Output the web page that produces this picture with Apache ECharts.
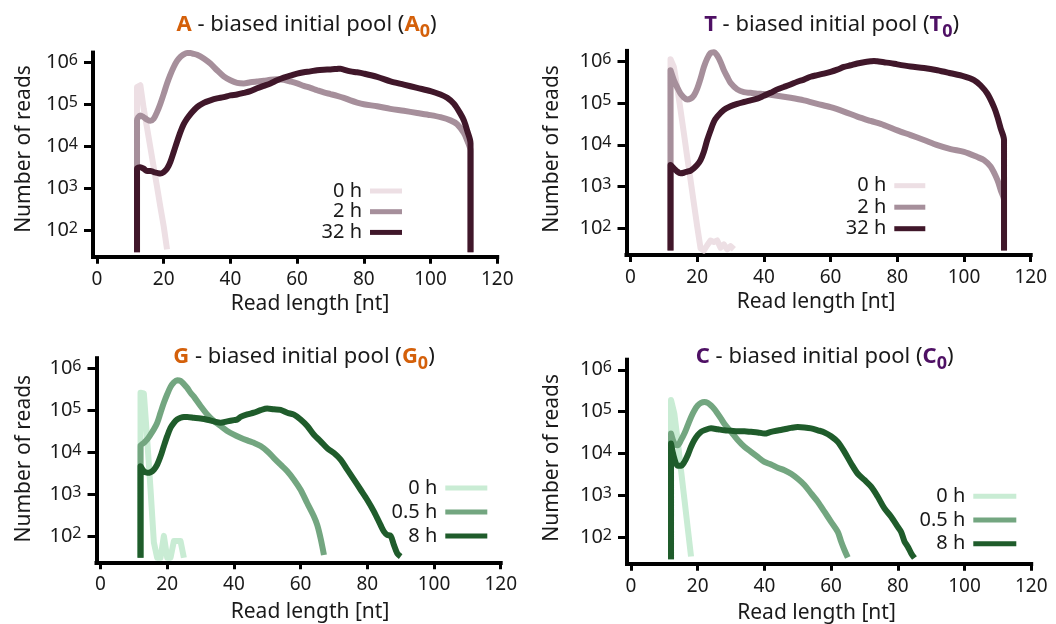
<!DOCTYPE html>
<html>
<head>
<meta charset="utf-8">
<script src="https://cdn.jsdelivr.net/npm/echarts@6/dist/echarts.min.js"></script>
<style>
  html, body { margin: 0; padding: 0; background: #ffffff; }
  #chart { width: 1056px; height: 624px; }
</style>
</head>
<body>
<div id="chart"></div>
<script>
// Axis ticks
const lengthTicks = [0, 20, 40, 60, 80, 100, 120];
const countTicks = [1e2, 1e3, 1e4, 1e5, 1e6];

// Read-length histograms: [read length (nt), number of reads]
// A-biased initial pool
const a0h = [[12,30],[12,2.6e5],[13,2.9e5],[14,8.0e4],[15,2.8e4],[16,9.5e3],[17,3.2e3],[18,1.1e3],[19,360],[20,125],[21,35]];
const a2h = [[12,30],[12,4.2e4],[13,5.5e4],[14,5.0e4],[15,4.4e4],[16,4.1e4],[17,4.6e4],[18,6.6e4],[19,1.05e5],[20,1.8e5],[21,3.2e5],[22,5.2e5],[23,7.9e5],[24,1.1e6],[25,1.38e6],[26,1.58e6],[27,1.7e6],[28,1.7e6],[29,1.62e6],[30,1.55e6],[32,1.26e6],[34,9.5e5],[36,6.6e5],[38,4.7e5],[40,3.8e5],[42,3.3e5],[44,3.2e5],[46,3.4e5],[48,3.55e5],[50,3.7e5],[52,3.9e5],[54,4.0e5],[56,3.9e5],[58,3.55e5],[60,3.2e5],[62,2.8e5],[64,2.5e5],[66,2.2e5],[68,1.95e5],[70,1.78e5],[72,1.62e5],[74,1.45e5],[76,1.26e5],[78,1.12e5],[80,1.02e5],[84,9.1e4],[88,7.9e4],[92,7.1e4],[96,6.3e4],[100,5.6e4],[103,5.0e4],[106,4.2e4],[108,3.4e4],[110,2.1e4],[111,1.4e4],[112,7.9e3],[112,30]];
const a32h = [[12,30],[12,2950],[13,3200],[14,2950],[15,2600],[16,2600],[17,2450],[18,2350],[19,2250],[20,2450],[21,2950],[22,4300],[23,7400],[24,1.3e4],[25,2.2e4],[26,3.4e4],[27,4.6e4],[28,5.9e4],[30,8.7e4],[32,1.1e5],[34,1.26e5],[36,1.4e5],[38,1.5e5],[40,1.66e5],[42,1.74e5],[44,1.9e5],[46,2.1e5],[48,2.45e5],[50,2.8e5],[52,3.2e5],[54,3.8e5],[56,4.4e5],[58,4.9e5],[60,5.5e5],[62,5.9e5],[64,6.2e5],[66,6.6e5],[68,6.8e5],[70,6.9e5],[72,7.1e5],[73,7.2e5],[74,6.8e5],[76,6.2e5],[78,5.9e5],[80,5.5e5],[84,4.6e5],[88,3.6e5],[92,3.0e5],[96,2.5e5],[100,2.1e5],[103,1.74e5],[105,1.45e5],[107,1.05e5],[109,6.0e4],[110,4.2e4],[111,2.4e4],[112,1.2e4],[112,30]];

// T-biased initial pool
const t0h = [[12,30],[12,1.1e6],[13,7.2e5],[14,2.4e5],[15,6.8e4],[16,1.9e4],[17,5.1e3],[18,1.45e3],[19,400],[20,112],[21,34],[22,30],[23,40],[24,52],[25,48],[26,52],[27,35],[28,42],[29,32],[30,38],[31,32]];
const t2h = [[12,30],[12,6.0e5],[13,3.5e5],[14,2.35e5],[15,1.66e5],[16,1.35e5],[17,1.2e5],[18,1.26e5],[19,1.5e5],[20,2.2e5],[21,3.8e5],[22,7.2e5],[23,1.15e6],[24,1.55e6],[25,1.62e6],[26,1.35e6],[27,9.5e5],[28,6.0e5],[29,4.2e5],[30,3.0e5],[32,2.1e5],[34,1.8e5],[36,1.74e5],[38,1.66e5],[40,1.62e5],[44,1.48e5],[48,1.32e5],[52,1.15e5],[56,9.5e4],[60,7.9e4],[64,6.2e4],[68,4.7e4],[72,3.7e4],[76,2.95e4],[80,2.2e4],[84,1.7e4],[88,1.3e4],[92,9.8e3],[96,7.9e3],[100,6.8e3],[104,5.1e3],[106,4.3e3],[108,3.0e3],[110,1.45e3],[111,830],[112,480],[112,30]];
const t32h = [[12,30],[12,3300],[13,2750],[14,2300],[15,2100],[16,2150],[17,2300],[18,2400],[19,2750],[20,3300],[21,4300],[22,6800],[23,1.3e4],[24,2.2e4],[25,3.55e4],[26,4.7e4],[28,6.8e4],[30,8.3e4],[32,9.5e4],[34,1.05e5],[36,1.15e5],[38,1.26e5],[40,1.48e5],[42,1.74e5],[44,2.1e5],[46,2.4e5],[48,2.75e5],[50,3.2e5],[52,3.6e5],[54,4.2e5],[56,4.6e5],[58,5.0e5],[60,5.5e5],[62,6.2e5],[64,7.2e5],[66,7.9e5],[68,8.7e5],[70,9.3e5],[72,9.8e5],[73,1.0e6],[74,9.8e5],[76,9.3e5],[78,8.9e5],[80,8.3e5],[84,7.4e5],[88,6.8e5],[92,6.0e5],[96,5.1e5],[100,4.3e5],[103,3.5e5],[105,2.6e5],[107,1.66e5],[109,7.9e4],[110,4.7e4],[111,2.45e4],[112,1.3e4],[112,30]];

// G-biased initial pool
const g0h = [[12,30],[12,2.6e5],[13,2.5e5],[14,2.0e4],[15,1.3e3],[16,70],[17,30],[18,30],[19,100],[20,30],[21,30],[22,75],[23,75],[24,75],[25,30]];
const g05h = [[12,30],[12,1.4e4],[13,1.66e4],[14,2.0e4],[15,2.6e4],[16,3.5e4],[17,5.0e4],[18,8.7e4],[19,1.5e5],[20,2.4e5],[21,3.6e5],[22,4.6e5],[23,5.2e5],[24,5.0e5],[25,4.2e5],[26,3.4e5],[27,2.6e5],[28,2.1e5],[30,1.26e5],[32,7.9e4],[34,5.5e4],[36,4.2e4],[38,3.2e4],[40,2.6e4],[42,2.2e4],[44,1.9e4],[46,1.66e4],[48,1.4e4],[50,1.05e4],[52,7.2e3],[54,5.0e3],[56,3.5e3],[58,2.2e3],[60,1.26e3],[62,600],[64,290],[65,180],[66,87],[67,35]];
const g8h = [[12,30],[12,4.6e3],[13,3.5e3],[14,3.2e3],[15,3.3e3],[16,3.8e3],[17,5.0e3],[18,7.9e3],[19,1.4e4],[20,2.4e4],[21,3.8e4],[22,5.0e4],[23,6.0e4],[24,6.6e4],[25,6.9e4],[26,6.9e4],[28,6.6e4],[30,6.3e4],[32,5.9e4],[34,5.4e4],[36,5.0e4],[38,5.4e4],[40,5.8e4],[41,6.0e4],[42,6.9e4],[44,7.9e4],[46,8.7e4],[48,1.0e5],[50,1.1e5],[52,1.05e5],[54,1.02e5],[56,8.7e4],[58,7.8e4],[60,6.0e4],[62,4.2e4],[64,2.6e4],[66,1.8e4],[68,1.23e4],[70,9.5e3],[72,6.6e3],[74,3.8e3],[76,2.2e3],[78,1.26e3],[80,720],[82,380],[84,180],[85,126],[86,105],[87,100],[88,60],[89,38],[90,32]];

// C-biased initial pool
const c0h = [[12,30],[12,1.9e5],[13,8.9e4],[14,2.0e4],[15,4.0e3],[16,830],[17,170],[18,35]];
const c05h = [[12,30],[12,3.0e4],[13,1.74e4],[14,1.58e4],[15,2.1e4],[16,3.0e4],[17,4.7e4],[18,7.4e4],[19,1.07e5],[20,1.4e5],[21,1.62e5],[22,1.7e5],[23,1.62e5],[24,1.4e5],[25,1.15e5],[26,8.9e4],[27,6.8e4],[28,5.1e4],[30,3.3e4],[32,2.1e4],[34,1.45e4],[36,1.1e4],[38,8.3e3],[40,6.3e3],[42,5.5e3],[44,4.6e3],[46,4.0e3],[48,3.3e3],[50,2.5e3],[52,1.78e3],[54,1.12e3],[56,710],[58,410],[60,235],[62,135],[63,80],[64,50],[65,33]];
const c8h = [[12,30],[12,1.74e4],[13,7.6e3],[14,5.1e3],[15,5.1e3],[16,6.3e3],[17,9.1e3],[18,1.45e4],[19,2.1e4],[20,2.75e4],[21,3.3e4],[22,3.6e4],[24,4.0e4],[26,3.8e4],[28,3.6e4],[30,3.5e4],[32,3.4e4],[34,3.4e4],[36,3.3e4],[38,3.2e4],[40,3.0e4],[42,3.3e4],[44,3.55e4],[46,3.8e4],[48,4.1e4],[50,4.3e4],[52,4.2e4],[54,4.0e4],[56,3.6e4],[58,3.2e4],[60,2.6e4],[62,1.9e4],[64,1.1e4],[66,5.8e3],[68,3.3e3],[70,2.35e3],[72,1.62e3],[74,930],[76,490],[78,310],[80,178],[81,135],[82,80],[83,60],[84,42],[85,32]];

// Time-point labels
const timesAT = ['0 h', '2 h', '32 h'];
const timesGC = ['0 h', '0.5 h', '8 h'];

const FONT = 'Noto Sans';
const INK = '#1a1a1a';
const ORANGE = '#d4600a';
const PURPLE = '#4e1064';
const PLUM = ['#eddfe4', '#a68f9b', '#40172a'];
const GREEN = ['#c9ecd4', '#73a680', '#1f5c2b'];

// Panel layout (pixels)
const GRID_W = 404.2, GRID_H = 204.1;
const panels = [
  { base: 'A', accent: ORANGE, times: timesAT, data: [a0h, a2h, a32h], colors: PLUM,
    left: 93, top: 52.6, title: [306.5, 26], xName: [310, 304], yName: [24, 149],
    legend: { right: 654, top: 181, gap: 0.7, w: 32 } },
  { base: 'T', accent: PURPLE, times: timesAT, data: [t0h, t2h, t32h], colors: PLUM,
    left: 626.5, top: 50.9, title: [831.7, 26], xName: [816, 302.5], yName: [552, 149],
    legend: { right: 130.7, top: 175.7, gap: 1.5, w: 31 } },
  { base: 'G', accent: ORANGE, times: timesGC, data: [g0h, g05h, g8h], colors: GREEN,
    left: 96.5, top: 358.2, title: [304, 358], xName: [310, 612], yName: [24, 458.7],
    legend: { right: 568.7, top: 478, gap: 4, w: 42 } },
  { base: 'C', accent: PURPLE, times: timesGC, data: [c0h, c05h, c8h], colors: GREEN,
    left: 627, top: 359.7, title: [824.7, 358], xName: [816.5, 612.8], yName: [552, 457.8],
    legend: { right: 39.7, top: 486.3, gap: 3.7, w: 43 } }
];

const grid = [], xAxis = [], yAxis = [], series = [], legend = [], graphic = [];

panels.forEach((p, i) => {
  grid.push({ left: p.left, top: p.top, width: GRID_W, height: GRID_H, containLabel: false, outerBoundsMode: 'none' });

  xAxis.push({
    type: 'value', gridIndex: i, min: -1.2, max: 120,
    axisLine: { show: true, onZero: false, lineStyle: { color: '#000', width: 4, cap: 'square' } },
    axisTick: { show: true, length: 7, lineStyle: { color: '#000', width: 3 }, customValues: lengthTicks },
    axisLabel: { show: true, margin: 13, fontSize: 19, fontFamily: FONT, color: INK, customValues: lengthTicks },
    splitLine: { show: false }
  });

  yAxis.push({
    type: 'log', logBase: 10, gridIndex: i, min: 23.4, max: 1.74e6,
    axisLine: { show: true, onZero: false, lineStyle: { color: '#000', width: 4, cap: 'square' } },
    axisTick: { show: true, length: 9, lineStyle: { color: '#000', width: 3 }, customValues: countTicks },
    axisLabel: {
      show: true, margin: 15, fontSize: 20, fontFamily: FONT, color: INK, customValues: countTicks,
      formatter: v => '{b|10}{s|' + Math.round(Math.log10(v)) + '}',
      rich: {
        b: { fontSize: 20, lineHeight: 20, fontFamily: FONT, color: INK, verticalAlign: 'bottom' },
        s: { fontSize: 16, lineHeight: 16, fontFamily: FONT, color: INK, verticalAlign: 'top', padding: [0, 0, 11, 0] }
      }
    },
    splitLine: { show: false }
  });

  const names = p.times.map(t => p.base + '|' + t);
  p.data.forEach((d, k) => {
    series.push({
      type: 'line', name: names[k], xAxisIndex: i, yAxisIndex: i,
      data: d, showSymbol: false, symbol: 'none', clip: false,
      smooth: k === 0 ? false : 0.3,
      lineStyle: { color: p.colors[k], width: 6, join: 'round' },
      itemStyle: { color: p.colors[k] },
      z: 2 + k, silent: true
    });
  });

  legend.push({
    data: names, orient: 'vertical', align: 'right', icon: 'rect',
    right: p.legend.right, top: p.legend.top, padding: 0, itemGap: p.legend.gap,
    itemWidth: p.legend.w, itemHeight: 5,
    itemStyle: { borderWidth: 0 },
    formatter: n => n.split('|')[1],
    textStyle: { fontSize: 20, fontFamily: FONT, color: INK, padding: [0, 3, 0, 0] },
    selectedMode: false
  });

  const accentTok = { fontSize: 22, lineHeight: 25, fontWeight: 'bold', fontFamily: FONT, fill: p.accent, verticalAlign: 'top' };
  graphic.push({
    type: 'text', x: p.title[0], y: p.title[1],
    style: {
      text: '{o|' + p.base + '}{t| - biased initial pool (}{o|' + p.base + '}{s|0}{t|)}',
      align: 'center', verticalAlign: 'middle',
      rich: {
        o: accentTok,
        t: { fontSize: 22, lineHeight: 25, fontFamily: FONT, fill: INK, verticalAlign: 'top' },
        s: { fontSize: 18, lineHeight: 18, fontWeight: 'bold', fontFamily: FONT, fill: p.accent, verticalAlign: 'top', padding: [9, 0, 0, 0] }
      }
    }
  });
  graphic.push({
    type: 'text', x: p.xName[0], y: p.xName[1],
    style: { text: 'Read length [nt]', font: '21px "' + FONT + '"', fill: INK, align: 'center', verticalAlign: 'middle' }
  });
  graphic.push({
    type: 'text', x: p.yName[0], y: p.yName[1], rotation: Math.PI / 2,
    style: { text: 'Number of reads', font: '21px "' + FONT + '"', fill: INK, align: 'center', verticalAlign: 'middle' }
  });
});

const chart = echarts.init(document.getElementById('chart'), null, { renderer: 'canvas' });
chart.setOption({
  backgroundColor: '#ffffff',
  animation: false,
  grid, xAxis, yAxis, series, legend, graphic
});
</script>
</body>
</html>
